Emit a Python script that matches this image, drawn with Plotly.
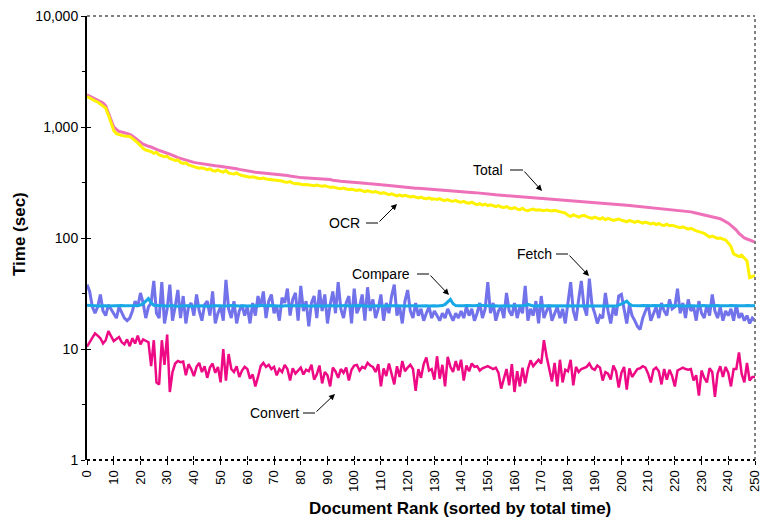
import plotly.graph_objects as go

ranks = list(range(0, 251))

total = [
    1950, 1900, 1850, 1800, 1760, 1700, 1650, 1550, 1350, 1150,
    1000, 950, 910, 900, 890, 880, 860, 830, 800, 760,
    730, 700, 680, 670, 660, 650, 630, 615, 600, 590,
    580, 570, 560, 545, 530, 520, 510, 500, 495, 488,
    480, 475, 470, 466, 462, 458, 455, 452, 448, 445,
    442, 440, 437, 435, 430, 425, 420, 415, 410, 406,
    402, 398, 395, 392, 390, 388, 386, 384, 382, 380,
    379, 378, 377, 374, 370, 366, 362, 358, 355, 352,
    350, 349, 348, 347, 346, 345, 344, 343, 342, 341,
    340, 336, 332, 328, 326, 324, 323, 322, 322, 321,
    320, 318, 316, 314, 312, 310, 309, 308, 306, 305,
    303, 301, 299, 297, 295, 293, 291, 289, 287, 285,
    284, 283, 282, 281, 280, 279, 278, 276, 274, 272,
    271, 270, 269, 268, 267, 266, 265, 264, 263, 262,
    261, 260, 259, 258, 257, 256, 255, 253, 251, 249,
    248, 247, 246, 245, 244, 243, 242, 241, 240, 239,
    238, 237, 236, 235, 234, 233, 232, 231, 230, 229,
    228, 227, 226, 225, 224, 223, 222, 221, 220, 219,
    218, 217, 217, 216, 215, 214, 213, 212, 211, 210,
    209, 208, 207, 206, 205, 204, 203, 202, 201, 200,
    199, 198, 197, 196, 195, 194, 193, 192, 191, 190,
    189, 188, 187, 186, 185, 184, 183, 182, 181, 180,
    179, 178, 177, 176, 175, 174, 172, 170, 168, 166,
    164, 162, 160, 158, 156, 154, 152, 149, 145, 141,
    136, 130, 124, 118, 110, 104, 100, 98, 96, 94, 92,
]

ocr = [
    1880, 1820, 1760, 1720, 1680, 1620, 1560, 1480, 1280, 1080,
    930, 870, 850, 840, 830, 825, 820, 790, 760, 720,
    680, 640, 620, 610, 600, 580, 590, 560, 550, 540,
    545, 520, 510, 500, 505, 480, 470, 475, 455, 450,
    440, 432, 425, 430, 418, 412, 420, 405, 400, 410,
    398, 392, 405, 385, 380, 378, 385, 372, 366, 360,
    355, 352, 356, 348, 345, 343, 346, 340, 338, 336,
    334, 333, 332, 326, 320, 318, 322, 312, 308, 310,
    305, 302, 304, 300, 298, 296, 300, 294, 292, 295,
    290, 286, 288, 282, 280, 278, 282, 276, 273, 275,
    270, 268, 272, 265, 262, 266, 260, 258, 262, 255,
    252, 256, 250, 246, 250, 244, 240, 245, 238, 242,
    236, 234, 238, 232, 230, 234, 228, 226, 230, 224,
    225, 222, 226, 220, 218, 222, 216, 214, 218, 212,
    210, 214, 208, 206, 210, 204, 200, 204, 198, 202,
    196, 199, 194, 192, 196, 190, 188, 192, 186, 184,
    188, 182, 180, 185, 178, 176, 180, 182, 178, 180,
    178, 176, 179, 177, 175, 178, 176, 174, 172, 168,
    160, 156, 162, 158, 154, 158, 160, 156, 152, 150,
    154, 150, 148, 152, 146, 150, 148, 144, 146, 148,
    145, 142, 140, 144, 141, 138, 142, 140, 136, 139,
    137, 134, 136, 132, 135, 131, 130, 133, 129, 130,
    128, 126, 124, 126, 122, 120, 122, 118, 116, 114,
    112, 110, 106, 102, 104, 101, 99, 100, 98, 96,
    90, 84, 72, 70, 68, 70, 66, 62, 44, 45, 46,
]

fetch = [
    38, 33, 24, 21, 24, 31, 22, 20, 25, 23,
    21, 19, 24, 21, 19, 18, 19, 22, 27, 24,
    32, 26, 19, 24, 26, 41, 21, 19, 40, 17,
    23, 38, 18, 24, 34, 19, 30, 17, 24, 26,
    20, 31, 22, 18, 25, 27, 20, 33, 17, 21,
    24, 18, 42, 23, 19, 27, 17, 22, 25, 20,
    24, 17, 26, 20, 30, 24, 33, 19, 27, 31,
    21, 24, 18, 29, 26, 35, 20, 28, 32, 18,
    37, 22, 27, 16, 26, 30, 19, 34, 22, 31,
    17, 25, 33, 21, 40, 23, 19, 26, 30, 17,
    35, 21, 24, 31, 18, 36, 22, 28, 19, 23,
    31, 18, 26, 21, 30, 38, 20, 24, 17, 27,
    34, 22, 19, 26, 20, 23, 18, 21, 24, 19,
    22, 20, 18, 21, 19, 23, 20, 18, 21, 19,
    22, 19, 24, 20, 23, 18, 21, 26, 19, 23,
    40, 21, 26, 18, 22, 24, 19, 32, 22, 20,
    26, 19, 24, 21, 37, 18, 23, 20, 27, 17,
    30, 19, 22, 25, 18, 21, 24, 19, 23, 17,
    26, 40, 22, 18, 28, 41, 24, 20, 43, 25,
    21, 17, 20, 19, 32, 22, 17, 24, 20, 30,
    31, 22, 17, 25, 20, 18, 16, 15, 19, 22,
    25, 18, 21, 24, 19, 26, 22, 20, 28, 23,
    24, 35, 21, 26, 19, 28, 22, 24, 18, 27,
    21, 19, 25, 20, 31, 22, 19, 24, 18, 22,
    20, 23, 18, 25, 19, 21, 18, 20, 17, 19, 18,
]

compare = [
    24.8, 24.6, 24.5, 24.5, 24.4, 24.5, 24.6, 24.5, 24.4, 24.5,
    24.5, 24.4, 24.5, 24.6, 24.5, 24.5, 24.4, 24.5, 24.6, 24.7,
    24.9, 25.6, 27.0, 28.4, 26.0, 24.8, 24.6, 24.5, 24.4, 24.5,
    24.4, 24.5, 24.6, 24.3, 24.5, 24.4, 24.5, 24.6, 24.5, 24.3,
    24.4, 24.5, 24.6, 24.5, 24.3, 24.5, 24.4, 24.5, 24.6, 24.4,
    24.5, 24.4, 24.3, 24.5, 24.6, 24.4, 24.5, 24.4, 24.6, 24.5,
    24.4, 24.5, 24.6, 24.5, 24.4, 24.8, 24.5, 24.4, 24.5, 24.6,
    24.5, 24.4, 24.5, 24.3, 24.5, 24.6, 24.4, 24.5, 24.5, 24.4,
    24.5, 24.6, 24.4, 24.5, 24.3, 24.5, 24.4, 24.6, 24.5, 24.4,
    24.5, 24.6, 24.5, 24.4, 24.5, 24.3, 24.5, 24.6, 24.4, 24.5,
    24.4, 24.5, 24.6, 24.5, 24.4, 24.5, 24.3, 24.5, 24.4, 24.6,
    24.5, 24.4, 24.5, 24.6, 24.4, 24.5, 24.5, 24.4, 24.6, 24.5,
    24.4, 24.5, 24.6, 24.5, 24.4, 24.5, 24.3, 24.5, 24.4, 24.6,
    24.5, 24.4, 24.5, 24.6, 25.2, 26.5, 28.0, 25.6, 24.6, 24.5,
    24.4, 24.5, 24.6, 24.5, 24.4, 24.5, 24.6, 25.0, 24.6, 24.4,
    24.5, 24.4, 24.6, 24.5, 24.4, 24.5, 24.6, 24.5, 24.4, 24.5,
    24.6, 24.4, 24.5, 24.5, 24.6, 25.2, 24.6, 24.4, 24.5, 24.5,
    24.4, 24.6, 24.5, 24.4, 24.5, 24.6, 24.4, 24.5, 24.5, 24.6,
    24.4, 24.5, 24.6, 24.5, 24.4, 24.5, 24.6, 24.5, 24.4, 24.5,
    24.5, 24.4, 24.6, 24.5, 24.4, 24.5, 24.5, 24.6, 24.4, 24.8,
    25.3, 26.2, 27.0, 25.4, 24.6, 24.5, 24.4, 24.5, 24.6, 24.5,
    24.4, 24.5, 24.6, 24.5, 24.4, 24.5, 24.5, 24.6, 24.4, 24.5,
    24.5, 24.4, 24.6, 24.5, 24.4, 24.5, 24.6, 24.5, 24.4, 24.5,
    24.5, 24.6, 24.4, 24.5, 24.5, 24.4, 24.6, 24.5, 24.4, 24.5,
    24.5, 24.6, 24.4, 24.5, 24.5, 24.4, 24.5, 24.6, 24.5, 24.4, 24.5,
]

convert = [
    10.5, 11.5, 12.8, 13.8, 13.2, 12.5, 11.2, 12.0, 14.5, 13.0,
    11.8, 12.3, 12.8, 11.5, 11.0, 12.2, 10.6, 12.5, 11.2, 13.2,
    11.0, 12.2, 11.9, 11.5, 7.0, 12.0, 5.0, 4.8, 12.0, 7.2,
    13.5, 4.1, 6.2, 7.4, 7.8, 7.6, 7.7, 5.8, 7.3, 6.6,
    5.7, 6.9, 7.5, 6.2, 7.0, 5.5, 6.8, 7.4, 6.1, 6.9,
    5.0, 10.0, 5.2, 9.0, 6.6, 6.2, 7.0, 5.6, 6.4, 6.9,
    6.6, 5.4, 5.9, 4.6, 5.6, 7.0, 7.5, 6.9, 7.2, 6.6,
    6.9, 5.8, 6.6, 6.2, 7.2, 6.6, 5.2, 6.7, 6.0, 6.4,
    6.8, 5.9, 6.5, 6.3, 7.2, 5.3, 5.9, 7.1, 4.9, 6.2,
    5.8, 4.6, 6.8, 6.3, 5.5, 6.6, 6.1, 6.8, 5.2, 6.5,
    7.1, 7.2, 6.4, 6.9, 6.7, 7.5, 7.1, 6.9, 6.2, 7.3,
    4.6, 6.7, 5.7, 7.4, 6.1, 4.8, 7.0, 5.6, 7.8, 6.3,
    6.8, 7.2, 6.6, 4.2, 6.6, 5.5, 7.3, 8.4, 6.4, 6.6,
    5.3, 8.6, 5.4, 7.2, 4.6, 8.5, 6.9, 6.2, 7.8, 6.4,
    8.0, 5.2, 7.1, 6.3, 7.4, 6.9, 7.0, 6.4, 6.7, 6.8,
    7.0, 6.8, 6.6, 6.8, 6.1, 4.4, 5.4, 6.6, 4.7, 7.3,
    4.1, 6.3, 4.6, 6.8, 4.9, 6.6, 7.9, 7.0, 7.5, 8.0,
    7.4, 12.0, 8.6, 6.7, 5.1, 7.5, 4.6, 8.0, 5.0, 6.5,
    6.3, 8.0, 4.7, 6.9, 6.2, 6.6, 6.7, 6.9, 7.4, 6.7,
    6.5, 7.1, 6.8, 5.2, 6.2, 6.0, 5.3, 7.1, 6.3, 4.5,
    6.1, 6.9, 4.3, 6.7, 5.6, 6.1, 6.6, 6.7, 7.0, 6.8,
    6.0, 5.0, 6.5, 6.8, 6.3, 4.8, 6.6, 5.3, 6.5, 5.7,
    4.6, 6.4, 6.6, 6.8, 6.6, 6.5, 6.6, 5.2, 5.8, 3.8,
    6.4, 5.5, 5.0, 6.7, 6.2, 3.7, 6.0, 7.0, 5.6, 6.9,
    6.1, 4.6, 6.6, 6.6, 9.3, 6.0, 5.0, 7.5, 5.2, 5.6, 5.6,
]

y_tickvals = [1, 10, 100, 1000, 10000]
y_ticktext = ["1", "10", "100", "1,000", "10,000"]
x_tickvals = list(range(0, 251, 10))

FONT = "Liberation Sans, Arial, sans-serif"

# plot area in pixels (reference layout, right edge pulled in so "250" fits)
L, R, T, B = 87, 755, 16, 460
W, H = R - L, B - T

fig = go.Figure()
fig.add_trace(go.Scatter(x=ranks, y=total, mode="lines", name="Total",
                         line=dict(color="#EE70B8", width=3)))
fig.add_trace(go.Scatter(x=ranks, y=ocr, mode="lines", name="OCR",
                         line=dict(color="#FFF200", width=3)))
fig.add_trace(go.Scatter(x=ranks, y=fetch, mode="lines", name="Fetch",
                         line=dict(color="#7272EA", width=3)))
fig.add_trace(go.Scatter(x=ranks, y=compare, mode="lines", name="Compare",
                         line=dict(color="#18A8E6", width=3)))
fig.add_trace(go.Scatter(x=ranks, y=convert, mode="lines", name="Convert",
                         line=dict(color="#EE0A84", width=2.5)))
# carrier for the overlay axes that draw the inner half of the cross ticks
fig.add_trace(go.Scatter(x=ranks, y=total, mode="lines", xaxis="x2", yaxis="y2",
                         line=dict(width=0), opacity=0, hoverinfo="skip",
                         showlegend=False))


def pxx(px):
    return (px - L) / W


def pyy(py):
    return (B - py) / H


# labels: (text, text center px, py, elbow start px, elbow end px, tip px, tip py)
labels = [
    ("Total", 488, 170, 510, 523, 542, 191),
    ("OCR", 344, 223, 366, 378, 397, 204),
    ("Fetch", 534, 254, 556, 568, 589, 276),
    ("Compare", 381, 274, 417, 429, 449, 295),
    ("Convert", 274, 413, 303, 315, 335, 394),
]

annotations = []
shapes = []
for text, cx, cy, sx, ex, tx, ty in labels:
    annotations.append(dict(x=pxx(cx), y=pyy(cy), xref="paper", yref="paper",
                            xanchor="center", yanchor="middle",
                            text=text, showarrow=False,
                            font=dict(family=FONT, size=14, color="black")))
    shapes.append(dict(type="line", xref="paper", yref="paper",
                       x0=pxx(sx), x1=pxx(ex), y0=pyy(cy), y1=pyy(cy),
                       line=dict(color="black", width=1)))
    annotations.append(dict(x=pxx(tx), y=pyy(ty), xref="paper", yref="paper",
                            ax=ex - tx, ay=cy - ty, axref="pixel", ayref="pixel",
                            text="", showarrow=True, arrowhead=2, arrowsize=1.2,
                            arrowwidth=1, arrowcolor="black", standoff=0))

annotations.append(dict(x=pxx(460), y=pyy(508), xref="paper", yref="paper",
                        xanchor="center", yanchor="middle",
                        text="<b>Document Rank (sorted by total time)</b>",
                        showarrow=False, font=dict(family=FONT, size=17, color="black")))
annotations.append(dict(x=pxx(19), y=pyy(234), xref="paper", yref="paper",
                        xanchor="center", yanchor="middle",
                        text="<b>Time (sec)</b>", textangle=-90, showarrow=False,
                        font=dict(family=FONT, size=17, color="black")))

# dotted frame top/right, dotted bottom axis
shapes.append(dict(type="line", xref="paper", yref="paper", x0=0, x1=1, y0=1, y1=1,
                   line=dict(color="#808080", width=2, dash="dot")))
shapes.append(dict(type="line", xref="paper", yref="paper", x0=1, x1=1, y0=0, y1=1,
                   line=dict(color="#808080", width=2, dash="dot")))
shapes.append(dict(type="line", xref="paper", yref="paper", x0=0, x1=1, y0=0, y1=0,
                   line=dict(color="black", width=2, dash="dot")))

fig.update_layout(
    width=762, height=519,
    margin=dict(l=L, r=762 - R, t=T, b=519 - B, autoexpand=False),
    paper_bgcolor="white", plot_bgcolor="white",
    showlegend=False,
    font=dict(family=FONT, color="black"),
    annotations=annotations,
    shapes=shapes,
    xaxis=dict(range=[0, 250], tickmode="array", tickvals=x_tickvals,
               ticks="outside", ticklen=4, tickwidth=1, tickcolor="black",
               tickangle=-90, tickfont=dict(family=FONT, size=13, color="black"),
               ticklabeloverflow="allow",
               showgrid=False, zeroline=False, showline=False, automargin=False),
    yaxis=dict(type="log", range=[0, 4], tickmode="array", tickvals=y_tickvals,
               ticktext=y_ticktext, ticks="outside", ticklen=4, tickwidth=1,
               tickcolor="black", tickfont=dict(family=FONT, size=14, color="black"),
               showgrid=False, zeroline=False, showline=True, linecolor="black",
               linewidth=2, automargin=False,
               minor=dict(tickvals=[3.16, 31.6, 316, 3162], ticks="outside",
                          ticklen=3, tickcolor="black", tickwidth=1, showgrid=False)),
    xaxis2=dict(overlaying="x", range=[0, 250], tickmode="array", tickvals=x_tickvals,
                ticks="inside", ticklen=4, tickwidth=1, tickcolor="black",
                showticklabels=False, showgrid=False, zeroline=False, showline=False,
                automargin=False, side="bottom"),
    yaxis2=dict(overlaying="y", type="log", range=[0, 4], tickmode="array",
                tickvals=y_tickvals, ticks="inside", ticklen=4, tickwidth=1,
                tickcolor="black", showticklabels=False, showgrid=False,
                zeroline=False, showline=False, automargin=False, side="left"),
)

fig.write_html("out.html", config={"displayModeBar": False},
               post_script="document.body.style.margin='0';"
                           "document.body.style.overflow='hidden';")
